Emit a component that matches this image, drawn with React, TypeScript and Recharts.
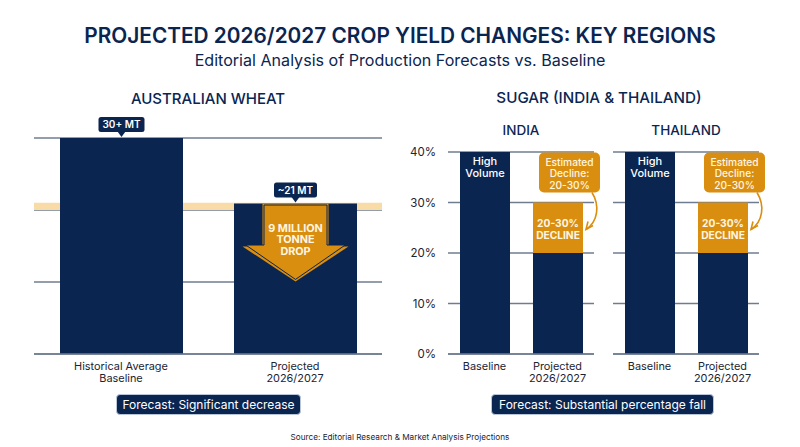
import React from "react";
import { BarChart, Bar, XAxis, YAxis, CartesianGrid, LabelList, ReferenceArea } from "recharts";

const wheatCategories = ["Historical Average\nBaseline", "Projected\n2026/2027"];
const wheatValues = [30, 20.9];
const wheatPills = ["30+ MT", "~21 MT"];
const wheatBand = [20, 21];
const wheatTicks = [0, 10, 20, 30];

const sugarCategories = ["Baseline", "Projected\n2026/2027"];
const indiaBase = [40, 20];
const indiaDecline = [null, 10];
const thailandBase = [40, 20];
const thailandDecline = [null, 10];
const sugarTicks = [0, 10, 20, 30, 40];

const NAVY = "#0B2551";
const GOLD = "#D98E0F";
const INK = "#1B2433";
const GRID = "#6F7C90";
const FONT = "Inter, 'Open Sans', sans-serif";

const wheatData = wheatCategories.map((name, i) => ({ name, value: wheatValues[i], pill: wheatPills[i] }));
const build = (base: number[], decline: (number | null)[]) =>
  sugarCategories.map((name, i) => ({ name, base: base[i], decline: decline[i] }));

const CatTick = (props: any) => {
  const { x, y, payload } = props;
  return (
    <text x={x} textAnchor="middle" fontFamily={FONT} fontSize={10.9} fill={INK}>
      {String(payload.value).split("\n").map((l: string, i: number) => (
        <tspan key={i} x={x} y={y + 8 + i * 12}>{l}</tspan>
      ))}
    </text>
  );
};

const WheatPill = (props: any) => {
  const { x, y, width, index } = props;
  const cx = x + width / 2;
  const w = index === 0 ? 46 : 43;
  return (
    <g>
      <rect x={cx - w / 2} y={y - 21} width={w} height={15} rx={2.5} fill={NAVY} />
      <polygon points={`${cx - 4},${y - 6.5} ${cx + 4},${y - 6.5} ${cx},${y - 1}`} fill={NAVY} />
      <text x={cx} y={y - 9.8} textAnchor="middle" fontFamily={FONT} fontSize={10} fontWeight={600} fill="#fff">
        {wheatPills[index]}
      </text>
    </g>
  );
};

const arrowPts = (cx: number, top: number, inset: number) => {
  const sw = 33 - inset;
  const hw = 53 - inset * 2.2;
  const sy = top + 43 - inset;
  const tip = 78 - inset * 1.4;
  const t = top + inset;
  return `${cx - sw},${t} ${cx + sw},${t} ${cx + sw},${sy} ${cx + hw},${sy} ${cx},${top + tip} ${cx - hw},${sy} ${cx - sw},${sy}`;
};

const DropArrow = (props: any) => {
  const { x, y, width, index } = props;
  if (index !== 1) return null;
  const cx = x + width / 2;
  return (
    <g>
      <polygon points={arrowPts(cx, y, 0)} fill={GOLD} />
      <polygon points={arrowPts(cx, y, 1.5)} fill={GOLD} stroke={NAVY} strokeWidth={1} />
      <text textAnchor="middle" fontFamily={FONT} fontSize={10.8} fontWeight={700} fill="#FFF6E2">
        <tspan x={cx} y={y + 28}>9 MILLION</tspan>
        <tspan x={cx} y={y + 39.5}>TONNE</tspan>
        <tspan x={cx} y={y + 51}>DROP</tspan>
      </text>
    </g>
  );
};

const HighVolume = (props: any) => {
  const { x, y, width, index } = props;
  if (index !== 0) return null;
  const cx = x + width / 2;
  return (
    <text textAnchor="middle" fontFamily={FONT} fontSize={11} fontWeight={500} fill="#fff">
      <tspan x={cx} y={y + 13}>High</tspan>
      <tspan x={cx} y={y + 25}>Volume</tspan>
    </text>
  );
};

const DeclineNote = (props: any) => {
  const { x, y, width, value } = props;
  if (value == null || !width) return null;
  const cx = x + width / 2;
  const bx = x + 6;
  const by = y - 50;
  const r = x + width;
  return (
    <g>
      <text textAnchor="middle" fontFamily={FONT} fontSize={10.2} fontWeight={700} fill="#FFF6E2">
        <tspan x={cx} y={y + 24}>20-30%</tspan>
        <tspan x={cx} y={y + 36}>DECLINE</tspan>
      </text>
      <rect x={bx} y={by} width={61} height={40} rx={5} fill={GOLD} />
      <text textAnchor="middle" fontFamily={FONT} fontSize={10.2} fontWeight={500} fill="#FFF6E2">
        <tspan x={bx + 30.5} y={by + 13}>Estimated</tspan>
        <tspan x={bx + 30.5} y={by + 24.5}>Decline:</tspan>
        <tspan x={bx + 30.5} y={by + 36}>20-30%</tspan>
      </text>
      <path d={`M${r + 9},${y - 10} C${r + 17},${y + 3} ${r + 15},${y + 19} ${r + 3},${y + 27}`} fill="none" stroke={GOLD} strokeWidth={1.6} />
      <path d={`M${r + 5},${y + 19} L${r + 3},${y + 27} L${r + 10},${y + 23}`} fill="none" stroke={GOLD} strokeWidth={1.6} />
    </g>
  );
};

const Txt = ({ x, y, size, weight = 400, color = NAVY, children }: any) => (
  <div style={{ position: "absolute", left: x, top: y, transform: "translate(-50%,-50%)", fontFamily: FONT, fontSize: size, fontWeight: weight, color, whiteSpace: "nowrap", lineHeight: 1 }}>
    {children}
  </div>
);

const Pill = ({ left, width, children }: any) => (
  <div style={{ position: "absolute", left, top: 394, width, height: 21, boxSizing: "border-box", background: NAVY, border: "1px solid #B9C6DA", borderRadius: 4, display: "flex", alignItems: "center", justifyContent: "center", fontFamily: FONT, fontSize: 12, color: "#fff", whiteSpace: "nowrap" }}>
    {children}
  </div>
);

const layer: React.CSSProperties = { position: "absolute", left: 0, top: 0 };

const SugarChart = ({ data, left, right, withAxis }: any) => (
  <div style={layer}>
    <BarChart width={800} height={447} data={data} barCategoryGap={0}
      margin={{ left: withAxis ? left - 40 : left, right: 800 - right, top: 152, bottom: 63 }}>
      <CartesianGrid vertical={false} stroke={GRID} strokeWidth={1.4} />
      <XAxis dataKey="name" interval={0} tickLine={false} axisLine={{ stroke: GRID, strokeWidth: 1.4 }} tick={<CatTick />} height={30} />
      <YAxis hide={!withAxis} width={40} domain={[0, 40]} ticks={sugarTicks} tickLine={false} axisLine={false} tickMargin={6}
        tickFormatter={(v: number) => `${v}%`} tick={{ fontFamily: FONT, fontSize: 11.5, fill: INK }} />
      <Bar dataKey="base" stackId="s" fill={NAVY} barSize={50} isAnimationActive={false}>
        <LabelList dataKey="base" content={<HighVolume />} />
      </Bar>
      <Bar dataKey="decline" stackId="s" fill={GOLD} barSize={50} isAnimationActive={false}>
        <LabelList dataKey="decline" content={<DeclineNote />} />
      </Bar>
    </BarChart>
  </div>
);

export default function App() {
  return (
    <div style={{ position: "absolute", left: 0, top: 0, width: 800, height: 447, background: "#fff", overflow: "hidden" }}>
      <Txt x={400} y={36} size={20.8} weight={600}>PROJECTED 2026/2027 CROP YIELD CHANGES: KEY REGIONS</Txt>
      <Txt x={400} y={60} size={16.1}>Editorial Analysis of Production Forecasts vs. Baseline</Txt>
      <Txt x={208} y={98} size={15} weight={500}>AUSTRALIAN WHEAT</Txt>
      <Txt x={599} y={98} size={15.2} weight={500}>SUGAR (INDIA &amp; THAILAND)</Txt>
      <Txt x={521} y={131} size={13.5} weight={500}>INDIA</Txt>
      <Txt x={686} y={131} size={13.5} weight={500}>THAILAND</Txt>

      <div style={layer}>
        <BarChart width={800} height={447} data={wheatData} barCategoryGap={0}
          margin={{ left: 34, right: 418, top: 138, bottom: 63 }}>
          <CartesianGrid vertical={false} stroke={GRID} strokeWidth={1.4} />
          <ReferenceArea y1={wheatBand[0]} y2={wheatBand[1]} fill="#F8DBA6" fillOpacity={1} stroke="none" />
          <XAxis dataKey="name" interval={0} tickLine={false} axisLine={{ stroke: GRID, strokeWidth: 1.4 }} tick={<CatTick />} height={30} />
          <YAxis hide domain={[0, 30]} ticks={wheatTicks} />
          <Bar dataKey="value" fill={NAVY} barSize={123} isAnimationActive={false}>
            <LabelList dataKey="value" content={<WheatPill />} />
            <LabelList dataKey="value" content={<DropArrow />} />
          </Bar>
        </BarChart>
      </div>

      <SugarChart data={build(indiaBase, indiaDecline)} left={448} right={594} withAxis />
      <SugarChart data={build(thailandBase, thailandDecline)} left={613} right={759} withAxis={false} />

      <Pill left={116} width={185}>Forecast: Significant decrease</Pill>
      <Pill left={491} width={223}>Forecast: Substantial percentage fall</Pill>
      <Txt x={400} y={437} size={8.2} color={INK}>Source: Editorial Research &amp; Market Analysis Projections</Txt>
    </div>
  );
}
